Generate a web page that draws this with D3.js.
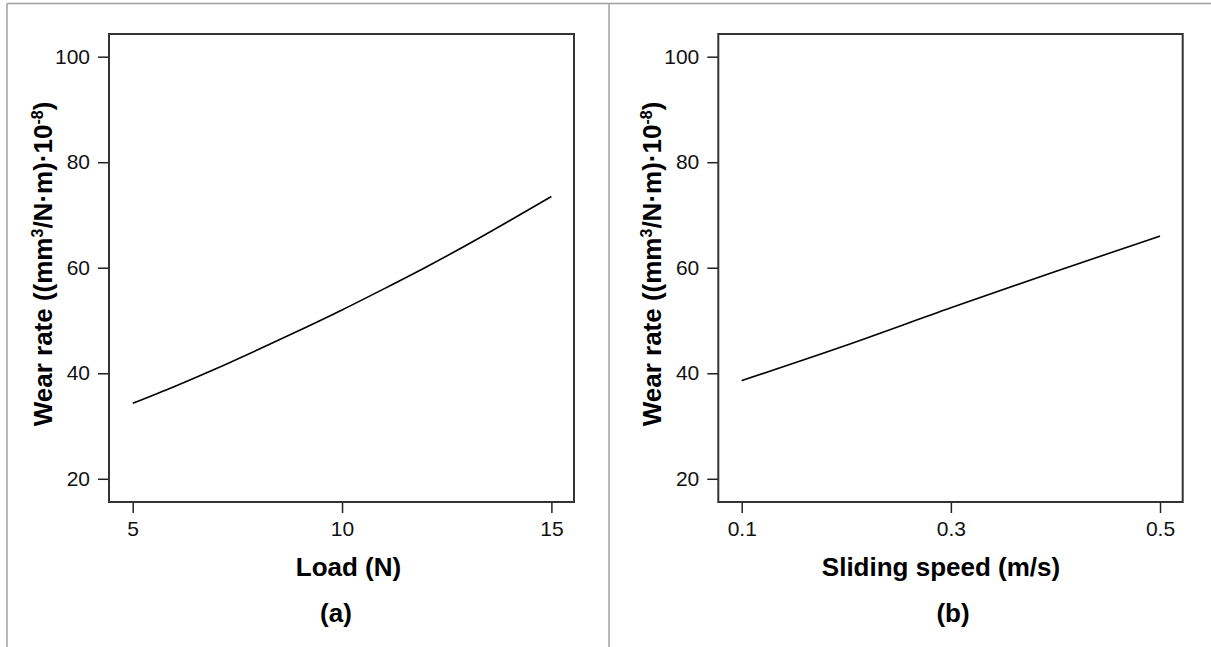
<!DOCTYPE html>
<html>
<head>
<meta charset="utf-8">
<script src="https://cdn.jsdelivr.net/npm/d3@7"></script>
<style>
  body { margin: 0; background: #fff; }
  svg { display: block; font-family: "Liberation Sans", Arial, sans-serif; }
</style>
</head>
<body>
<svg id="chart" width="1211" height="647"></svg>
<script>
// Data
const loads = [5, 6, 7, 8, 9, 10, 11, 12, 13, 14, 15];
const wearByLoad = [34.3, 37.5, 40.9, 44.5, 48.2, 52.0, 56.0, 60.1, 64.4, 68.9, 73.5];

const speeds = [0.1, 0.2, 0.3, 0.4, 0.5];
const wearBySpeed = [38.6, 45.3, 52.4, 59.3, 66.0];

const loadTicks = [5, 10, 15];
const speedTicks = [0.1, 0.3, 0.5];
const wearTicks = [20, 40, 60, 80, 100];

const yTitle = "Wear rate ((mm";

const svg = d3.select("#chart");

// outer grey frame and divider
const border = svg.append("g").attr("stroke", "#a0a0a0").attr("stroke-width", 1.5);
border.append("line").attr("x1", 7).attr("x2", 1211).attr("y1", 3.5).attr("y2", 3.5);
border.append("line").attr("x1", 7).attr("x2", 7).attr("y1", 3.5).attr("y2", 647);
border.append("line").attr("x1", 609).attr("x2", 609).attr("y1", 3.5).attr("y2", 647);

const panels = [
  { left: 109, right: 574, xDomain: [4.434, 15.54], xs: loads, ys: wearByLoad,
    ticks: loadTicks, fmt: d3.format("d"), xLabel: "Load (N)", xLabelX: 348.5, tag: "(a)", tagX: 336 },
  { left: 718.3, right: 1182.7, xDomain: [0.0776, 0.5217], xs: speeds, ys: wearBySpeed,
    ticks: speedTicks, fmt: d3.format(".1f"), xLabel: "Sliding speed (m/s)", xLabelX: 941, tag: "(b)", tagX: 953 }
];

const plotTop = 34, plotBottom = 502;

panels.forEach(p => {
  const x = d3.scaleLinear().domain(p.xDomain).range([p.left, p.right]);
  const y = d3.scaleLinear().domain([15.6, 104.3]).range([plotBottom, plotTop]);

  const g = svg.append("g");

  // x axis
  const xa = g.append("g")
    .attr("transform", `translate(0,${plotBottom})`)
    .call(d3.axisBottom(x).tickValues(p.ticks).tickFormat(p.fmt).tickSize(11).tickPadding(8));
  // y axis
  const ya = g.append("g")
    .attr("transform", `translate(${p.left},0)`)
    .call(d3.axisLeft(y).tickValues(wearTicks).tickSize(11).tickPadding(8));

  [xa, ya].forEach(a => {
    a.select(".domain").remove();
    a.attr("font-size", 21).attr("font-family", "Liberation Sans, Arial, sans-serif");
    a.selectAll("line").attr("stroke", "#222").attr("stroke-width", 1.5);
    a.selectAll("text").attr("fill", "#111");
  });

  // plot frame
  g.append("rect")
    .attr("x", p.left).attr("y", plotTop)
    .attr("width", p.right - p.left).attr("height", plotBottom - plotTop)
    .attr("fill", "none").attr("stroke", "#333").attr("stroke-width", 2);

  // curve
  const line = d3.line()
    .x((d, i) => x(p.xs[i]))
    .y(d => y(d))
    .curve(d3.curveMonotoneX);
  g.append("path")
    .datum(p.ys)
    .attr("fill", "none")
    .attr("stroke", "#000")
    .attr("stroke-width", 1.6)
    .attr("d", line);

  // axis titles
  g.append("text")
    .attr("x", p.xLabelX).attr("y", 576)
    .attr("text-anchor", "middle")
    .attr("font-size", 26).attr("font-weight", "bold")
    .text(p.xLabel);
  g.append("text")
    .attr("x", p.tagX).attr("y", 622)
    .attr("text-anchor", "middle")
    .attr("font-size", 26).attr("font-weight", "bold")
    .text(p.tag);

  const yt = g.append("text")
    .attr("transform", `translate(${p.left - 57},${(plotTop + plotBottom) / 2 - 4}) rotate(-90)`)
    .attr("text-anchor", "middle")
    .attr("font-size", 26).attr("font-weight", "bold");
  yt.append("tspan").text(yTitle);
  yt.append("tspan").attr("font-size", 16).attr("dy", -9).text("3");
  yt.append("tspan").attr("dy", 9).text("/N·m)·10");
  yt.append("tspan").attr("font-size", 16).attr("dy", -9).text("-8");
  yt.append("tspan").attr("dy", 9).text(")");
});
</script>
</body>
</html>
